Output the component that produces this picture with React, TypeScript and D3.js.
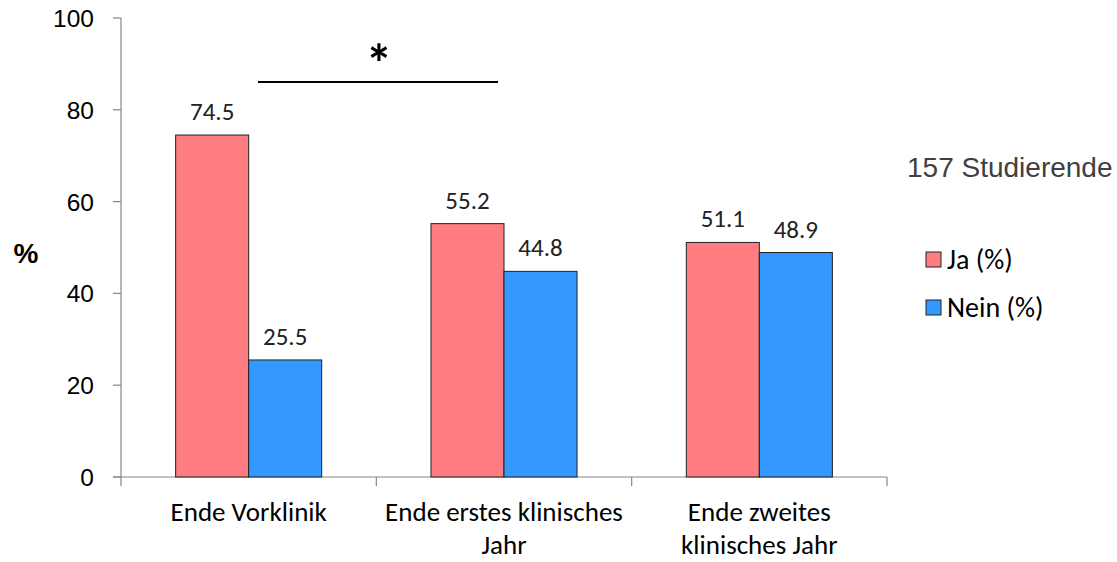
import React from "react";
import * as d3 from "d3";

const categories: string[][] = [["Ende Vorklinik"], ["Ende erstes klinisches", "Jahr"], ["Ende zweites", "klinisches Jahr"]];
const jaValues = [74.5, 55.2, 51.1];
const neinValues = [25.5, 44.8, 48.9];
const seriesNames = ["Ja (%)", "Nein (%)"];
const yTicks = [0, 20, 40, 60, 80, 100];

const colors = ["#FF7C80", "#3399FF"];

export default function App() {
  const W = 1117, H = 562;
  const x0 = 121, x1 = 887, yBottom = 477, yTop = 18;
  const x = d3.scaleBand<number>().domain([0, 1, 2]).range([x0, x1]).paddingInner(0).paddingOuter(0);
  const y = d3.scaleLinear().domain([0, 100]).range([yBottom, yTop]);
  const groupW = x.bandwidth() * 0.572;
  const inner = d3.scaleBand<number>().domain([0, 1]).range([0, groupW]);
  const series = [jaValues, neinValues];
  const calibri = "Carlito, 'Open Sans', 'DejaVu Sans', sans-serif";
  const arial = "'Liberation Sans', Arial, sans-serif";

  return (
    <svg width={W} height={H} style={{ position: "absolute", left: 0, top: 0 }}>
      <rect width={W} height={H} fill="#fff" />
      {/* y axis */}
      <line x1={x0} x2={x0} y1={yTop} y2={yBottom} stroke="#868686" strokeWidth={1.2} />
      {yTicks.map((t) => (
        <g key={t}>
          <line x1={x0 - 8} x2={x0} y1={y(t)} y2={y(t)} stroke="#868686" strokeWidth={1.2} />
          <text x={x0 - 27} y={y(t) + 9} textAnchor="end" fontFamily={arial} fontSize={24.5} fill="#000">{t}</text>
        </g>
      ))}
      {/* x axis */}
      <line x1={x0 - 8} x2={x1} y1={yBottom} y2={yBottom} stroke="#868686" strokeWidth={1.2} />
      {[0, 1, 2, 3].map((i) => {
        const px = i < 3 ? (x(i) as number) : x1;
        return <line key={i} x1={px} x2={px} y1={yBottom} y2={yBottom + 9} stroke="#868686" strokeWidth={1.2} />;
      })}
      {/* bars */}
      {categories.map((c, ci) => {
        const gx = (x(ci) as number) + (x.bandwidth() - groupW) / 2;
        return (
          <g key={ci}>
            {series.map((s, si) => {
              const bx = gx + (inner(si) as number);
              return (
                <g key={si}>
                  <rect x={bx} y={y(s[ci])} width={inner.bandwidth()} height={yBottom - y(s[ci])} fill={colors[si]} stroke="#222" strokeWidth={1} />
                  <text x={bx + inner.bandwidth() / 2} y={y(s[ci]) - 15} textAnchor="middle" fontFamily={calibri} fontSize={25} fill="#222">{s[ci].toFixed(1)}</text>
                </g>
              );
            })}
            {c.map((line, li) => (
              <text key={li} x={(x(ci) as number) + x.bandwidth() / 2} y={521 + li * 33} textAnchor="middle" fontFamily={calibri} fontSize={27} fill="#000">{line}</text>
            ))}
          </g>
        );
      })}
      {/* significance */}
      <line x1={258} x2={498} y1={82} y2={82} stroke="#000" strokeWidth={2} />
      <text x={379} y={82} textAnchor="middle" fontFamily={calibri} fontWeight="bold" fontSize={54} fill="#000">*</text>
      {/* y label */}
      <text x={26} y={263} textAnchor="middle" fontFamily={arial} fontWeight="bold" fontSize={28} fill="#000">%</text>
      {/* note */}
      <text x={907} y={177} fontFamily={arial} fontSize={28} fill="#404040">157 Studierende</text>
      {/* legend */}
      {seriesNames.map((n, i) => (
        <g key={n}>
          <rect x={926} y={252 + i * 48} width={15} height={15} fill={colors[i]} stroke="#222" strokeWidth={1} />
          <text x={947} y={269 + i * 48} fontFamily={calibri} fontSize={28} fill="#000">{n}</text>
        </g>
      ))}
    </svg>
  );
}
